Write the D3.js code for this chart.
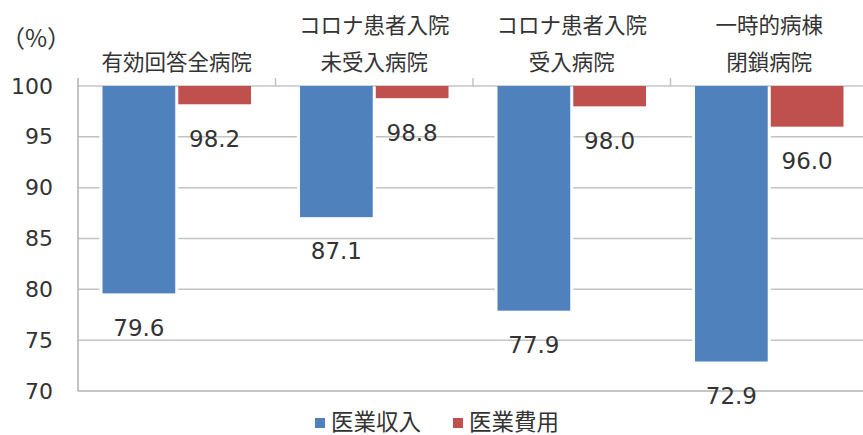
<!DOCTYPE html>
<html><head><meta charset="utf-8">
<script src="https://cdn.jsdelivr.net/npm/d3@7"></script>
<style>body{margin:0;background:#fff}svg{display:block}</style>
</head><body>
<script>
const categories = [["有効回答全病院"], ["コロナ患者入院","未受入病院"], ["コロナ患者入院","受入病院"], ["一時的病棟","閉鎖病院"]];
const seriesNames = ["医業収入", "医業費用"];
const revenue = [79.6, 87.1, 77.9, 72.9];
const expense = [98.2, 98.8, 98.0, 96.0];
const yTicks = [70, 75, 80, 85, 90, 95, 100];
const colors = ["#4f81bd", "#c0504d"];

const W = 863, H = 435;
const svg = d3.select("body").append("svg").attr("width", W).attr("height", H);
const font = "'DejaVu Sans','Noto Sans CJK JP',sans-serif";
const jfont = "'Noto Sans CJK JP',sans-serif";
const txt = "#333";

const catKeys = categories.map((c,i)=>i);
const x0 = d3.scaleBand().domain(catKeys).range([78, 868]);
const x1 = d3.scaleBand().domain(seriesNames).range([24.5, x0.bandwidth()-24.5]).paddingInner(0.04);
const y = d3.scaleLinear().domain([70, 100]).range([391, 86]);

// gridlines
svg.append("g").selectAll("line").data(yTicks.filter(t=>t>70)).join("line")
  .attr("x1", 78).attr("x2", 868).attr("y1", d=>y(d)).attr("y2", d=>y(d))
  .attr("stroke", "#c4c4c4").attr("stroke-width", 1.5);

// axes
const yAxis = d3.axisLeft(y).tickValues(yTicks).tickSize(0).tickPadding(25);
const gy = svg.append("g").attr("transform", "translate(78,0)").call(yAxis);
gy.select(".domain").remove();
gy.selectAll("text").attr("font-family", font).attr("font-size", 22).attr("fill", txt);
svg.append("line").attr("x1",78).attr("x2",78).attr("y1",78).attr("y2",391).attr("stroke","#b0b0b0").attr("stroke-width",1.5);
svg.append("line").attr("x1",78).attr("x2",868).attr("y1",391).attr("y2",391).attr("stroke","#b0b0b0").attr("stroke-width",1.5);
// top category ticks
svg.append("g").selectAll("line").data(catKeys.slice(1)).join("line")
  .attr("x1", d=>x0(d)).attr("x2", d=>x0(d)).attr("y1", 78).attr("y2", 86)
  .attr("stroke", "#c4c4c4").attr("stroke-width", 1.5);

const data = catKeys.map(i => [
  {cat:i, s:seriesNames[0], v:revenue[i], c:colors[0]},
  {cat:i, s:seriesNames[1], v:expense[i], c:colors[1]}
]).flat();

// white outlines
svg.append("g").selectAll("rect").data(data).join("rect")
  .attr("x", d=>x0(d.cat)+x1(d.s)-3).attr("width", x1.bandwidth()+6)
  .attr("y", y(100)+1).attr("height", d=>y(d.v)-y(100)+2).attr("fill", "#fff");
svg.append("g").selectAll("rect").data(data).join("rect")
  .attr("x", d=>x0(d.cat)+x1(d.s)).attr("width", x1.bandwidth())
  .attr("y", y(100)).attr("height", d=>y(d.v)-y(100)).attr("fill", d=>d.c);

// data labels
svg.append("g").selectAll("text").data(data).join("text")
  .attr("x", d=>x0(d.cat)+x1(d.s)+x1.bandwidth()/2)
  .attr("y", d=>y(d.v)+34+8.3)
  .attr("text-anchor", "middle").attr("font-family", font).attr("font-size", 23).attr("fill", txt)
  .text(d=>d.v.toFixed(1));

// category labels (top)
const cg = svg.append("g");
categories.forEach((lines, i) => {
  const cx = x0(i) + x0.bandwidth()/2;
  const n = lines.length;
  lines.forEach((l, j) => {
    const cy = 62 - (n-1-j)*37;
    cg.append("text").attr("x", cx).attr("y", cy+7.5).attr("text-anchor","middle")
      .attr("font-family", jfont).attr("font-size", 21.5).attr("fill", txt).text(l);
  });
});

// unit
svg.append("text").attr("x", 1).attr("y", 47).attr("font-family", jfont).attr("font-size", 24).attr("fill", txt).text("（%）");

// legend
const legX = [315, 453];
seriesNames.forEach((s, i) => {
  svg.append("rect").attr("x", legX[i]).attr("y", 418).attr("width", 10).attr("height", 10).attr("fill", colors[i]);
  svg.append("text").attr("x", legX[i]+16).attr("y", 430).attr("font-family", jfont).attr("font-size", 22.5).attr("fill", txt).text(s);
});
</script>
</body></html>
